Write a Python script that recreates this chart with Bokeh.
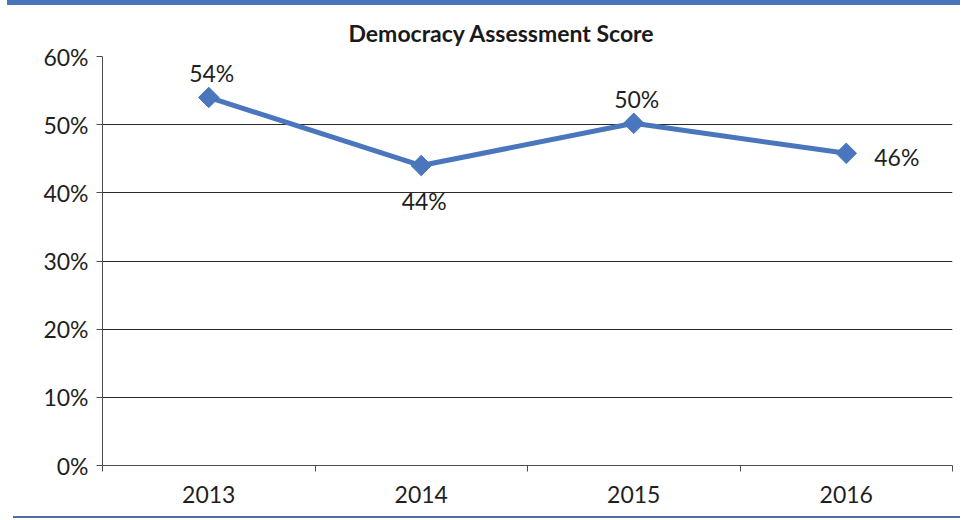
import math
from bokeh.plotting import figure
from bokeh.embed import file_html
from bokeh.resources import INLINE
from bokeh.models import (ColumnDataSource, Range1d, FixedTicker, NumeralTickFormatter,
                          Div)
from bokeh.layouts import column
from bokeh.core.properties import value

# ---- data ----
years = ["2013", "2014", "2015", "2016"]
scores = [0.54, 0.44, 0.502, 0.458]
score_labels = ["54%", "44%", "50%", "46%"]
label_side = ["above", "below", "above", "right"]
y_ticks = [0, 0.1, 0.2, 0.3, 0.4, 0.5, 0.6]

LINE = "#4a76bd"
FONT = "Lato"

xs = [i + 0.5 for i in range(len(years))]

side_off = {"above": (3, -24, "center"), "below": (3, 35, "center"), "right": (28, 4, "left")}
src = ColumnDataSource(dict(
    x=xs, y=scores, lab=score_labels,
    xo=[side_off[s][0] for s in label_side],
    yo=[side_off[s][1] for s in label_side],
    al=[side_off[s][2] for s in label_side],
))

p = figure(width=966, height=510, output_backend="svg", toolbar_location=None,
           x_range=Range1d(0, len(years)), y_range=Range1d(0, 0.6),
           min_border_left=102, min_border_right=14, min_border_top=51,
           min_border_bottom=50)
p.outline_line_color = None
p.background_fill_color = "white"
p.border_fill_color = "white"

p.title.text = "Democracy Assessment Score"
p.title.text_font = FONT
p.title.text_font_style = "bold"
p.title.text_font_size = "23px"
p.title.text_color = "#1a1a1a"
p.title.align = "left"
p.title.offset = 246
p.title.standoff = 20

# line + markers
p.line("x", "y", source=src, line_color=LINE, line_width=5)
p.scatter("x", "y", source=src, marker="square", size=14.5, angle=math.pi / 4,
          fill_color=LINE, line_color=LINE)
p.text("x", "y", text="lab", source=src, x_offset="xo", y_offset="yo",
       text_align="al", text_baseline="middle", text_font=value(FONT),
       text_font_size="23px", text_color="#1f1f1f")

# y axis
ya = p.yaxis[0]
ya.ticker = FixedTicker(ticks=y_ticks, minor_ticks=[])
ya.formatter = NumeralTickFormatter(format="0%")
ya.major_tick_in = 0
ya.major_tick_out = 6
ya.minor_tick_out = 0
ya.axis_line_color = "#4d4d4d"
ya.major_tick_line_color = "#4d4d4d"
ya.major_label_text_font = FONT
ya.major_label_text_font_size = "23px"
ya.major_label_text_color = "#1f1f1f"
ya.major_label_standoff = 8

# x axis: labels at category centres, ticks at category boundaries
xa = p.xaxis[0]
xa.ticker = FixedTicker(ticks=xs, minor_ticks=list(range(len(years) + 1)))
xa.major_label_overrides = {x: y for x, y in zip(xs, years)}
xa.major_tick_in = 0
xa.major_tick_out = 0
xa.minor_tick_in = 0
xa.minor_tick_out = 6
xa.axis_line_color = "#4d4d4d"
xa.minor_tick_line_color = "#4d4d4d"
xa.major_label_text_font = FONT
xa.major_label_text_font_size = "23px"
xa.major_label_text_color = "#1f1f1f"
xa.major_label_standoff = 14

p.xgrid.grid_line_color = None
p.ygrid.ticker = FixedTicker(ticks=y_ticks)
p.ygrid.grid_line_color = "#2b2b2b"
p.ygrid.grid_line_width = 1.2

top_bar = Div(text="", width=953, height=5, margin=(0, 0, 0, 7),
              styles={"background-color": "#4a74b9"})
bottom_line = Div(text="", width=947, height=2, margin=(1, 0, 0, 13),
                  styles={"background-color": "#4f6e9e"})

layout = column(top_bar, p, bottom_line, spacing=0)

open("out.html", "w").write(file_html(layout, INLINE))
